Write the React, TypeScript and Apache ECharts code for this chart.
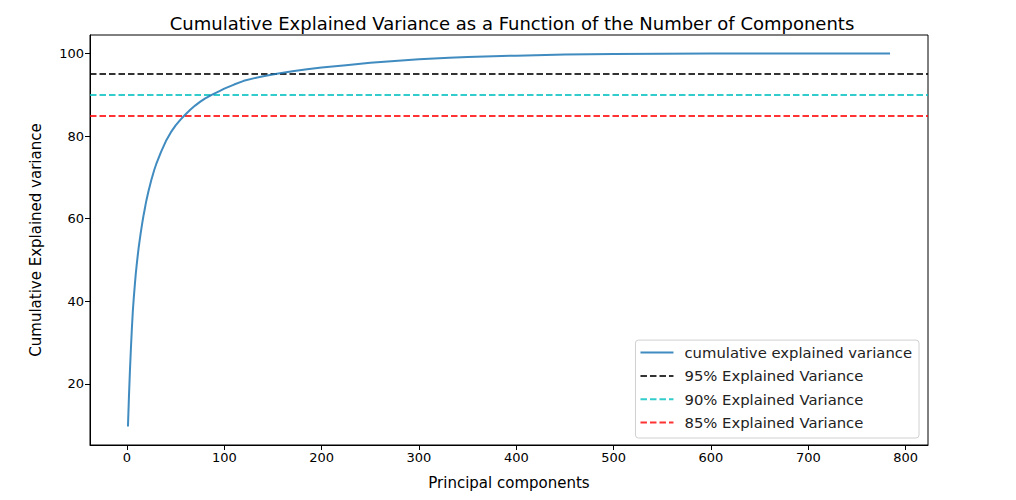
import React, { useEffect, useRef } from "react";
import * as echarts from "echarts";

const components = [1,2,3,4,5,6,7,8,9,10,11,12,13,14,15,16,17,18,19,20,22,25,28,30,35,40,45,50,55,59,65,70,75,80,87,95,100,110,120,130,140,154,170,185,200,225,250,275,300,331,350,400,450,500,550,600,650,700,784];
const cumVariance = [9.7,16.8,23.0,28.4,33.3,37.6,40.9,43.8,46.6,48.9,51.0,53.0,54.7,56.4,57.9,59.4,60.8,62.0,63.3,64.5,66.6,69.4,71.8,73.2,76.2,78.8,80.9,82.6,84.0,85.0,86.4,87.4,88.3,89.1,90.0,90.9,91.5,92.5,93.4,94.0,94.5,95.1,95.7,96.2,96.6,97.2,97.8,98.2,98.6,99.0,99.2,99.5,99.75,99.9,99.96,99.99,100,100,100];
const thresholds = [95, 90, 85];
const thresholdNames = ["95% Explained Variance", "90% Explained Variance", "85% Explained Variance"];
const thresholdColors = ["rgba(0,0,0,0.8)", "rgba(0,191,191,0.8)", "rgba(255,0,0,0.8)"];
const xTicks = [0, 100, 200, 300, 400, 500, 600, 700, 800];
const yTicks = [20, 40, 60, 80, 100];

const FONT = "DejaVu Sans";

export default function App() {
  const ref = useRef<HTMLDivElement>(null);
  useEffect(() => {
    document.body.style.margin = "0";
    const chart = echarts.init(ref.current!, null, { renderer: "svg" });
    const dash = [6.5, 3];
    const series: any[] = [
      {
        name: "cumulative explained variance",
        type: "line",
        data: components.map((c, i) => [c, cumVariance[i]]),
        showSymbol: false,
        symbol: "none",
        lineStyle: { color: "rgba(31,119,180,0.85)", width: 2 },
        itemStyle: { color: "rgba(31,119,180,0.85)" },
        z: 5,
      },
      ...thresholds.map((t, i) => ({
        name: thresholdNames[i],
        type: "line",
        data: [],
        symbol: "none",
        lineStyle: { color: thresholdColors[i], width: 2, type: dash },
        itemStyle: { color: thresholdColors[i] },
        markLine: {
          silent: true,
          symbol: "none",
          label: { show: false },
          lineStyle: { color: thresholdColors[i], width: 2, type: dash },
          data: [{ yAxis: t }],
        },
      })),
    ];
    chart.setOption({
      animation: false,
      title: {
        text: "Cumulative Explained Variance as a Function of the Number of Components",
        left: 507,
        textAlign: "center",
        top: 9,
        textStyle: { fontFamily: FONT, fontSize: 18, fontWeight: "normal", color: "#000" },
      },
      grid: {
        left: 90, right: 88, top: 35, bottom: 55,
        show: true, borderColor: "#000", borderWidth: 1, backgroundColor: "#fff",
      },
      legend: {
        orient: "vertical",
        right: 97,
        bottom: 62,
        backgroundColor: "#fff",
        borderColor: "#d0d0d0",
        borderWidth: 1,
        borderRadius: 3,
        padding: [5, 7, 8, 4],
        itemWidth: 33,
        itemHeight: 14,
        itemGap: 8.3,
        itemStyle: { opacity: 0 },
        textStyle: { fontFamily: FONT, fontSize: 14.8, color: "#222", padding: [0, 0, 0, 6] },
        data: ["cumulative explained variance", ...thresholdNames],
      },
      xAxis: {
        type: "value",
        min: -38,
        max: 823,
        name: "Principal components",
        nameLocation: "middle",
        nameGap: 30,
        nameTextStyle: { fontFamily: FONT, fontSize: 15, color: "#000" },
        axisLine: { show: true, onZero: false, lineStyle: { color: "#000" } },
        axisTick: { show: true, length: 5, lineStyle: { color: "#000" }, customValues: xTicks },
        axisLabel: { fontFamily: FONT, fontSize: 13, color: "#000", margin: 6, customValues: xTicks },
        splitLine: { show: false },
      },
      yAxis: {
        type: "value",
        min: 5.2,
        max: 104.5,
        name: "Cumulative Explained variance",
        nameLocation: "middle",
        nameGap: 47,
        nameTextStyle: { fontFamily: FONT, fontSize: 15, color: "#000" },
        axisLine: { show: true, onZero: false, lineStyle: { color: "#000" } },
        axisTick: { show: true, length: 5, lineStyle: { color: "#000" }, customValues: yTicks },
        axisLabel: { fontFamily: FONT, fontSize: 13, color: "#000", margin: 6, customValues: yTicks },
        splitLine: { show: false },
      },
      series,
    });
    return () => chart.dispose();
  }, []);
  return <div ref={ref} style={{ width: 1016, height: 500 }} />;
}
